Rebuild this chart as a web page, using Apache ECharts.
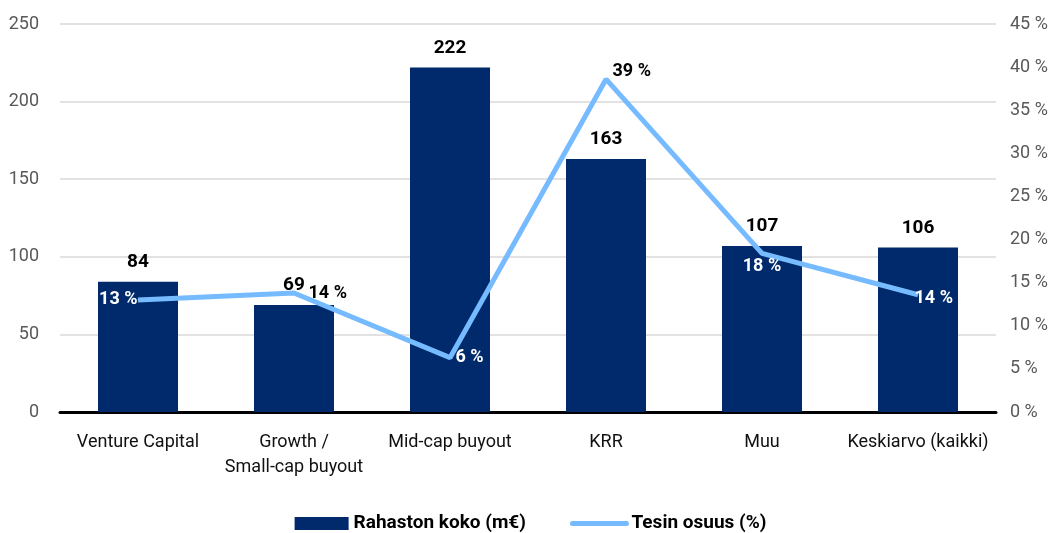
<!DOCTYPE html>
<html>
<head>
<meta charset="utf-8">
<script src="https://cdn.jsdelivr.net/npm/echarts@6/dist/echarts.min.js"></script>
<style>
  html, body { margin: 0; padding: 0; background: #fff; }
  #chart { width: 1061px; height: 533px; }
</style>
</head>
<body>
<div id="chart"></div>
<script>
const categories = ['Venture Capital', 'Growth /\nSmall-cap buyout', 'Mid-cap buyout', 'KRR', 'Muu', 'Keskiarvo (kaikki)']
const fundSize = [84, 69, 222, 163, 107, 106]
const tesiShare = [13.0, 13.8, 6.3, 38.6, 18.4, 13.6]
const shareLabels = ['13 %', '14 %', '6 %', '39 %', '18 %', '14 %']

const FONT = 'Roboto, sans-serif'

// label placement per point, like in the original
const labelPos = [
  { position: 'left', color: '#fff', distance: 0 },
  { position: 'right', color: '#000', distance: 14 },
  { position: 'right', color: '#fff', distance: 5 },
  { position: 'right', color: '#000', distance: 6, offset: [0, -8] },
  { position: 'bottom', color: '#fff', distance: 4 },
  { position: 'right', color: '#fff', distance: 0, offset: [-4, 4] }
]

const lineData = tesiShare.map((v, i) => ({
  value: v,
  label: Object.assign({ show: true, formatter: shareLabels[i] }, labelPos[i])
}))

const chart = echarts.init(document.getElementById('chart'))
chart.setOption({
  animation: false,
  textStyle: { fontFamily: FONT },
  grid: { left: 60, right: 65, top: 24, bottom: 121 },
  legend: {
    bottom: -5,
    left: 'center',
    itemWidth: 54,
    itemHeight: 13,
    itemGap: 44,
    textStyle: { fontFamily: FONT, fontSize: 19, fontWeight: 'bold', color: '#000' },
    data: [
      { name: 'Rahaston koko (m€)', icon: 'rect' },
      { name: 'Tesin osuus (%)', itemStyle: { opacity: 0 }, lineStyle: { width: 5, cap: 'round' } }
    ]
  },
  xAxis: {
    type: 'category',
    data: categories,
    axisTick: { show: false },
    axisLine: { lineStyle: { color: '#000', width: 3 } },
    axisLabel: { interval: 0, color: '#111', fontSize: 18, margin: 18, lineHeight: 25, fontFamily: FONT }
  },
  yAxis: [
    {
      type: 'value',
      min: 0,
      max: 250,
      interval: 50,
      axisLine: { show: false },
      axisTick: { show: false },
      splitLine: { lineStyle: { color: '#d9d9d9', width: 1.5 } },
      axisLabel: { color: '#595959', fontSize: 18, margin: 21, fontFamily: FONT }
    },
    {
      type: 'value',
      min: 0,
      max: 45,
      interval: 5,
      axisLine: { show: false },
      axisTick: { show: false },
      splitLine: { show: false },
      axisLabel: { color: '#595959', fontSize: 18, margin: 14, fontFamily: FONT, formatter: '{value} %' }
    }
  ],
  series: [
    {
      name: 'Rahaston koko (m€)',
      type: 'bar',
      data: fundSize,
      barWidth: 80,
      itemStyle: { color: '#002a6b' },
      label: { show: true, position: 'top', distance: 10, color: '#000', fontSize: 19, fontWeight: 'bold', fontFamily: FONT }
    },
    {
      name: 'Tesin osuus (%)',
      type: 'line',
      yAxisIndex: 1,
      data: lineData,
      symbol: 'circle',
      symbolSize: 1,
      showSymbol: true,
      z: 3,
      lineStyle: { color: '#76bbff', width: 5 },
      itemStyle: { color: '#76bbff' },
      label: { show: true, fontSize: 18, fontWeight: 'bold', fontFamily: FONT }
    }
  ]
})
</script>
</body>
</html>
